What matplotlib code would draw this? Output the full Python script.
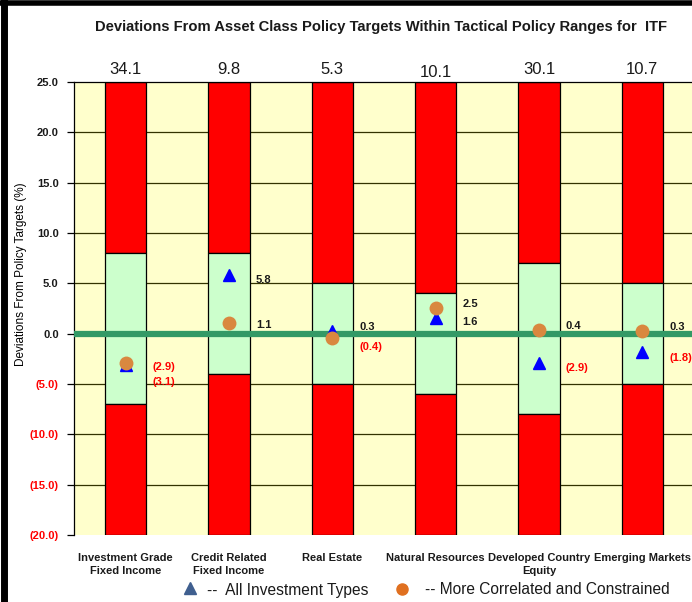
import matplotlib
matplotlib.use("Agg")
import matplotlib.pyplot as plt
from matplotlib.lines import Line2D
import numpy as np

plt.rcParams['font.family'] = ["Liberation Sans", "DejaVu Sans"]

# data
categories = ["Investment Grade\nFixed Income", "Credit Related\nFixed Income", "Real Estate",
              "Natural Resources", "Developed Country\nEquity", "Emerging Markets"]
policy_targets = ["34.1", "9.8", "5.3", "10.1", "30.1", "10.7"]
range_upper = [8, 8, 5, 4, 7, 5]
range_lower = [-7, -4, -5, -6, -8, -5]
all_types = [-3.1, 5.8, 0.3, 1.6, -2.9, -1.8]
correlated = [-2.9, 1.1, -0.4, 2.5, 0.4, 0.3]
# label placement (y, data units) for the two value labels of each category
label_y_all = [-4.8, 5.3, 0.7, 1.2, -3.4, -2.4]
label_y_corr = [-3.3, 0.9, -1.3, 2.9, 0.8, 0.7]

y_min, y_max = -20, 25


def fmt(v):
    return f"{v:.1f}" if v >= 0 else f"({abs(v):.1f})"


fig = plt.figure(figsize=(6.92, 6.02), dpi=100)
ax = fig.add_axes([74 / 692, 1 - 535 / 602, 620 / 692, 453 / 602])
ax.set_facecolor("#FFFFCC")

x = np.arange(len(categories))
w = 0.4

ax.set_xlim(-0.5, len(categories) - 0.5)
ax.set_ylim(y_min, y_max)

# gridlines
for yv in range(-15, 25, 5):
    ax.axhline(yv, color="#333300", lw=0.9, zorder=1)

up = np.array(range_upper)
lo = np.array(range_lower)
ax.bar(x, y_max - up, w, bottom=up, color="#FF0000", edgecolor="black", lw=0.9, zorder=2)
ax.bar(x, up - lo, w, bottom=lo, color="#CCFFCC", edgecolor="black", lw=0.9, zorder=2)
ax.bar(x, lo - y_min, w, bottom=y_min, color="#FF0000", edgecolor="black", lw=0.9, zorder=2)

ax.axhline(0, color="#339966", lw=4.5, zorder=3)

ax.plot(x, all_types, ls="none", marker="^", ms=9, color="#0000FF", zorder=4)
ax.plot(x, correlated, ls="none", marker="o", ms=10, color="#D9883F", mec="none", zorder=5)

for i in range(len(categories)):
    for v, ly in ((all_types[i], label_y_all[i]), (correlated[i], label_y_corr[i])):
        ax.text(x[i] + w / 2 + 0.06, ly, fmt(v), fontsize=8, fontweight="bold",
                color="#1a1a1a" if v >= 0 else "#FF0000", ha="left", va="center", zorder=6)
    ax.text(x[i], y_max + 1.2 - (0.3 if i == 3 else 0), policy_targets[i], fontsize=12,
            ha="center", va="center", color="#1a1a1a")

# axes styling
yt = list(range(y_min, y_max + 1, 5))
ax.set_yticks(yt)
ax.set_yticklabels([fmt(v) for v in yt], fontsize=8, fontweight="bold")
for lbl, v in zip(ax.get_yticklabels(), yt):
    lbl.set_color("#1a1a1a" if v >= 0 else "#FF0000")
ax.tick_params(axis="y", length=5, width=0.9, pad=6)
ax.set_xticks(x)
ax.set_xticklabels(categories, fontsize=8, fontweight="bold", linespacing=1.4, color="#1a1a1a")
ax.tick_params(axis="x", length=0, pad=13)
for s in ("right", "bottom"):
    ax.spines[s].set_visible(False)
ax.spines["left"].set_linewidth(0.9)
ax.spines["top"].set_linewidth(0.9)

ax.set_ylabel("Deviations From Policy Targets (%)", fontsize=8.5)
ax.yaxis.set_label_coords(-0.076, 0.576)

fig.text(381 / 692, 1 - 27 / 602, "Deviations From Asset Class Policy Targets Within Tactical Policy Ranges for  ITF",
         ha="center", va="center", fontsize=10.6, fontweight="bold", color="#1a1a1a")

# legend
fig.add_artist(Line2D([190 / 692], [1 - 588 / 602], marker="^", ms=9, color="#3F5F8F", ls="none"))
fig.text(207 / 692, 1 - 590 / 602, "--  All Investment Types", fontsize=11.2,
         ha="left", va="center", color="#1a1a1a")
fig.add_artist(Line2D([402 / 692], [1 - 589 / 602], marker="o", ms=8, color="#E07020", ls="none"))
fig.text(425 / 692, 1 - 590 / 602, "-- More Correlated and Constrained", fontsize=11.2,
         ha="left", va="center", color="#1a1a1a")

# thick frame on left and top
fig.add_artist(Line2D([4 / 692, 4 / 692], [0, 1], color="black", lw=5))
fig.add_artist(Line2D([0, 1], [1 - 2.5 / 602, 1 - 2.5 / 602], color="black", lw=4))

fig.savefig("out.png", dpi=100)
